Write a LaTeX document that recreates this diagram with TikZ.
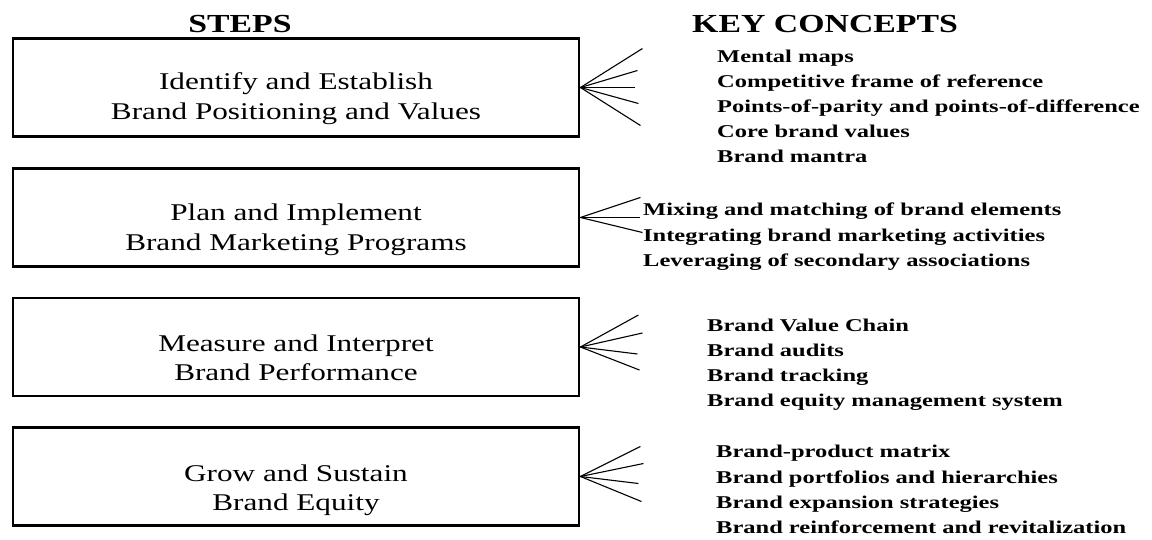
\documentclass[tikz,border=0pt]{standalone}
\usepackage{fontspec}
\setmainfont{Liberation Serif}
\usetikzlibrary{calc}
% all text is set a little wider than its natural shape
\newcommand{\widetext}[1]{\scalebox{1.3}[1]{#1}}
\newcommand{\widerterm}[1]{\scalebox{1.36}[1]{#1}}
\begin{document}
\begin{tikzpicture}[x=1pt,y=-1pt,
  stepbox/.style={draw, line width=2.9pt, minimum width=566pt, minimum height=98pt, inner sep=0pt},
  steptext/.style={anchor=base, font=\fontsize{24}{29}\selectfont, inner sep=0pt},
  concept/.style={anchor=base west, font=\fontsize{18}{22}\selectfont\bfseries, inner sep=0pt},
  header/.style={font=\fontsize{26}{30}\selectfont\bfseries, inner sep=0pt},
  fan/.style={line width=1.1pt}]
\useasboundingbox[fill=white] (0,0) rectangle (1152,539);

% column headers
\node[header, anchor=base] (hsteps) at (240,32) {\widetext{STEPS}};
\node[header, anchor=base west] (hkey) at (692,32) {\widetext{KEY CONCEPTS}};

% the four step boxes
\node[stepbox] (b1) at (296,87.5) {};
\node[stepbox] (b2) at (296,217.5) {};
\node[stepbox] (b3) at (296,347) {};
\node[stepbox] (b4) at (296,476.5) {};

% step titles
\node[steptext] (t1a) at (296,89)  {\widetext{Identify and Establish}};
\node[steptext] (t1b) at (296,119) {\widetext{Brand Positioning and Values}};
\node[steptext] (t2a) at (296,220) {\widetext{Plan and Implement}};
\node[steptext] (t2b) at (296,250) {\widetext{Brand Marketing Programs}};
\node[steptext] (t3a) at (296,351) {\widetext{Measure and Interpret}};
\node[steptext] (t3b) at (296,380) {\widetext{Brand Performance}};
\node[steptext] (t4a) at (296,481) {\widetext{Grow and Sustain}};
\node[steptext] (t4b) at (296,510) {\widetext{Brand Equity}};

% key concepts per step
\node[concept] (c11) at (717,62)  {\widerterm{Mental maps}};
\node[concept] (c12) at (717,87)  {\widerterm{Competitive frame of reference}};
\node[concept] (c13) at (717,112) {\widerterm{Points-of-parity and points-of-difference}};
\node[concept] (c14) at (717,137) {\widerterm{Core brand values}};
\node[concept] (c15) at (717,162) {\widerterm{Brand mantra}};

\node[concept] (c21) at (643,215) {\widerterm{Mixing and matching of brand elements}};
\node[concept] (c22) at (643,241) {\widerterm{Integrating brand marketing activities}};
\node[concept] (c23) at (643,266) {\widerterm{Leveraging of secondary associations}};

\node[concept] (c31) at (707,331) {\widerterm{Brand Value Chain}};
\node[concept] (c32) at (707,356) {\widerterm{Brand audits}};
\node[concept] (c33) at (707,381) {\widerterm{Brand tracking}};
\node[concept] (c34) at (707,406) {\widerterm{Brand equity management system}};

\node[concept] (c41) at (716,457) {\widerterm{Brand-product matrix}};
\node[concept] (c42) at (716,483) {\widerterm{Brand portfolios and hierarchies}};
\node[concept] (c43) at (716,508) {\widerterm{Brand expansion strategies}};
\node[concept] (c44) at (716,533) {\widerterm{Brand reinforcement and revitalization}};

% fans of short lines leaving each box
\foreach \dx/\dy [count=\i] in {62/-39, 57/-17, 55/0, 58/16, 60/38} {
  \coordinate (f1-\i) at ($(b1.east)+(\dx,\dy)$);
  \draw[fan] (b1.east) -- (f1-\i);
}
\foreach \dx/\dy [count=\i] in {60/-20, 60/0, 62/15} {
  \coordinate (f2-\i) at ($(b2.east)+(\dx,\dy)$);
  \draw[fan] (b2.east) -- (f2-\i);
}
\foreach \dx/\dy [count=\i] in {58/-32, 62/-14, 57/7, 59/23} {
  \coordinate (f3-\i) at ($(b3.east)+(\dx,\dy)$);
  \draw[fan] (b3.east) -- (f3-\i);
}
\foreach \dx/\dy [count=\i] in {60/-30, 63/-13, 58/7, 61/25} {
  \coordinate (f4-\i) at ($(b4.east)+(\dx,\dy)$);
  \draw[fan] (b4.east) -- (f4-\i);
}
\end{tikzpicture}
\end{document}
